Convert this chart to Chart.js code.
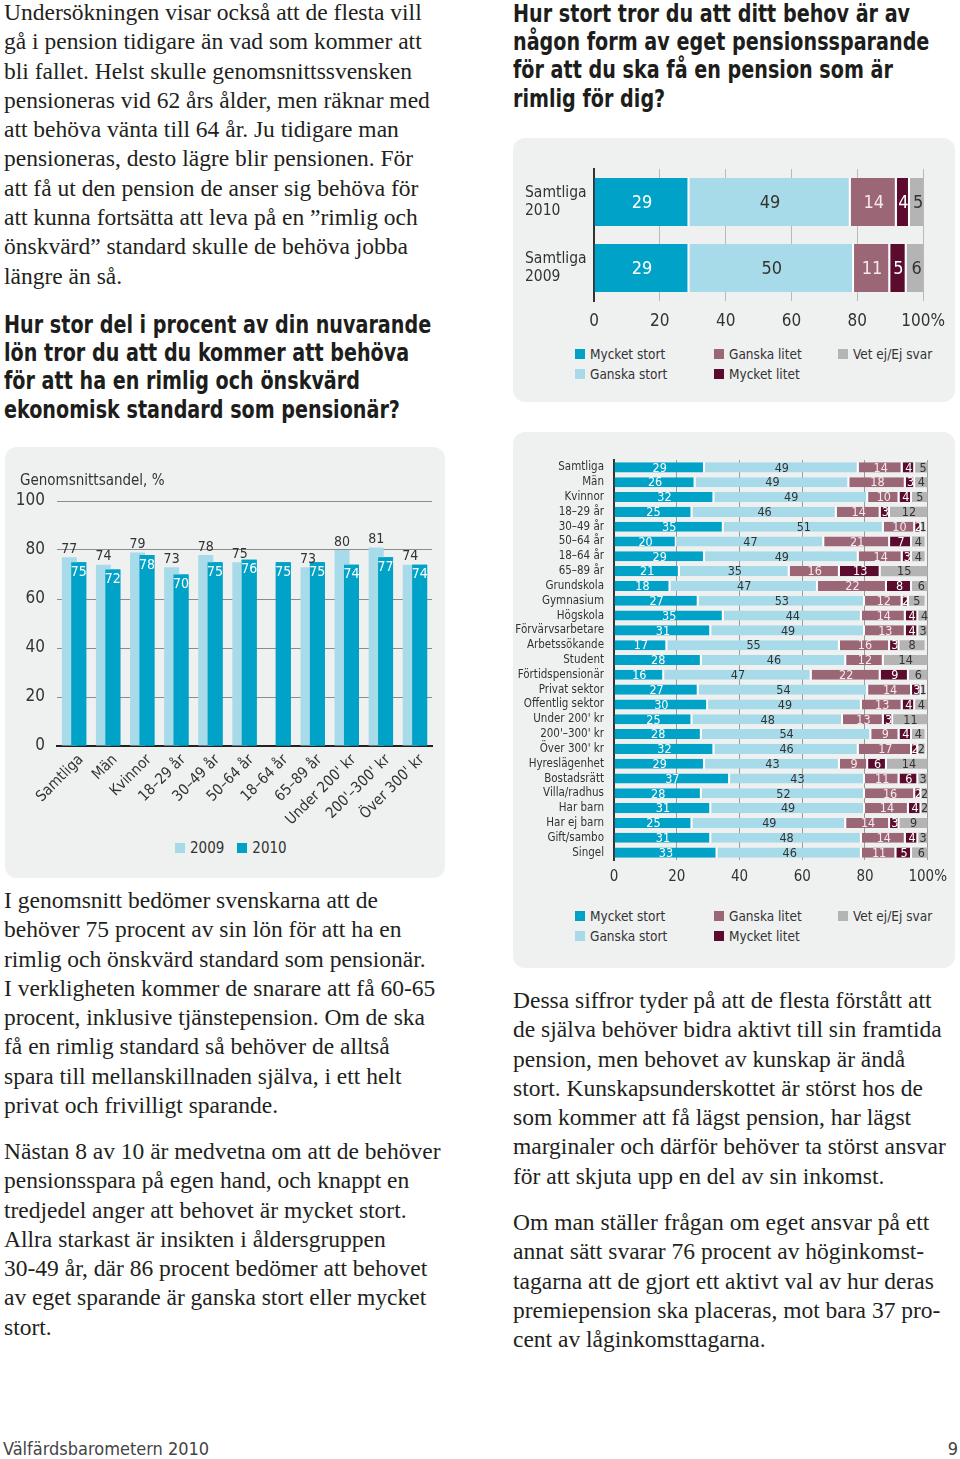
<!DOCTYPE html>
<html lang="sv">
<head>
<meta charset="UTF-8">
<title>Välfärdsbarometern 2010 – pension</title>
<script src="https://cdn.jsdelivr.net/npm/chart.js"></script>
<style>
  body { margin: 0; background: #fff; }
  .sida { position: relative; width: 960px; height: 1459px; overflow: hidden; }
  .brodtext { position: absolute; font-family: "Liberation Serif", "DejaVu Serif", serif; font-size: 23.5px; line-height: 29.3px; color: #231f20; white-space: nowrap; }
  .rubrik { position: absolute; font-family: "Liberation Sans Narrow", "DejaVu Sans Condensed", sans-serif; font-weight: bold; font-size: 25px; line-height: 28.2px; color: #1d1d1b; white-space: nowrap;
            transform: scaleX(0.852); transform-origin: 0 0; }
  .panel { position: absolute; background: #eff0f0; border-radius: 12px; }
  .panel canvas { position: absolute; left: 0; top: 0; }
  .smal { font-family: "Liberation Sans Narrow", "DejaVu Sans Condensed", sans-serif; color: #333; }
  .legend { position: absolute; font-size: 13.5px; line-height: 20px; white-space: nowrap;
            display: grid; grid-template-rows: 20px 20px; grid-auto-flow: column; grid-template-columns: 139px 124px 120px; }
  .legend i, .legend2 i { display: inline-block; width: 10px; height: 10px; margin-right: 5px; }
  .legend2 { position: absolute; font-size: 15px; line-height: 20px; display: flex; gap: 13px; }
  .fot { position: absolute; font-size: 18px; line-height: 22px; color: #444; }
</style>
</head>
<body>
<div class="sida">

  <div class="brodtext" style="left:4px; top:-2px">
    Undersökningen visar också att de flesta vill<br>
    gå i pension tidigare än vad som kommer att<br>
    bli fallet. Helst skulle genomsnittssvensken<br>
    pensioneras vid 62 års ålder, men räknar med<br>
    att behöva vänta till 64 år. Ju tidigare man<br>
    pensioneras, desto lägre blir pensionen. För<br>
    att få ut den pension de anser sig behöva för<br>
    att kunna fortsätta att leva på en ”rimlig och<br>
    önskvärd” standard skulle de behöva jobba<br>
    längre än så.
  </div>

  <div class="rubrik" style="left:4px; top:311px">
    Hur stor del i procent av din nuvarande<br>
    lön tror du att du kommer att behöva<br>
    för att ha en rimlig och önskvärd<br>
    ekonomisk standard som pensionär?
  </div>

  <div class="rubrik" style="left:513px; top:0px">
    Hur stort tror du att ditt behov är av<br>
    någon form av eget pensionssparande<br>
    för att du ska få en pension som är<br>
    rimlig för dig?
  </div>

  <!-- Genomsnittsandel 2009/2010 -->
  <div class="panel" style="left:5px; top:447px; width:440px; height:431px">
    <canvas id="andelChart" width="440" height="390"></canvas>
    <div class="smal" style="position:absolute; left:15px; top:23px; font-size:15px; line-height:20px">Genomsnittsandel, %</div>
    <div class="legend2 smal" id="legendAndel" style="left:170px; top:391px"></div>
  </div>

  <!-- Samtliga 2010 / 2009 -->
  <div class="panel" style="left:513px; top:138px; width:442px; height:264px">
    <canvas id="samtligaChart" width="442" height="200"></canvas>
    <div class="legend smal" id="legendSamtliga" style="left:62px; top:206px"></div>
  </div>

  <!-- Per grupp -->
  <div class="panel" style="left:513px; top:432px; width:442px; height:536px">
    <canvas id="grupperChart" width="442" height="460"></canvas>
    <div class="legend smal" id="legendGrupper" style="left:62px; top:474px"></div>
  </div>

  <div class="brodtext" style="left:4px; top:886px">
    I genomsnitt bedömer svenskarna att de<br>
    behöver 75 procent av sin lön för att ha en<br>
    rimlig och önskvärd standard som pensionär.<br>
    I verkligheten kommer de snarare att få 60-65<br>
    procent, inklusive tjänstepension. Om de ska<br>
    få en rimlig standard så behöver de alltså<br>
    spara till mellanskillnaden själva, i ett helt<br>
    privat och frivilligt sparande.
  </div>

  <div class="brodtext" style="left:4px; top:1137px">
    Nästan 8 av 10 är medvetna om att de behöver<br>
    pensionsspara på egen hand, och knappt en<br>
    tredjedel anger att behovet är mycket stort.<br>
    Allra starkast är insikten i åldersgruppen<br>
    30-49 år, där 86 procent bedömer att behovet<br>
    av eget sparande är ganska stort eller mycket<br>
    stort.
  </div>

  <div class="brodtext" style="left:513px; top:986px">
    Dessa siffror tyder på att de flesta förstått att<br>
    de själva behöver bidra aktivt till sin framtida<br>
    pension, men behovet av kunskap är ändå<br>
    stort. Kunskapsunderskottet är störst hos de<br>
    som kommer att få lägst pension, har lägst<br>
    marginaler och därför behöver ta störst ansvar<br>
    för att skjuta upp en del av sin inkomst.
  </div>

  <div class="brodtext" style="left:513px; top:1208px">
    Om man ställer frågan om eget ansvar på ett<br>
    annat sätt svarar 76 procent av höginkomst-<br>
    tagarna att de gjort ett aktivt val av hur deras<br>
    premiepension ska placeras, mot bara 37 pro-<br>
    cent av låginkomsttagarna.
  </div>

  <div class="fot smal" style="left:3px; top:1438px">Välfärdsbarometern 2010</div>
  <div class="fot smal" style="right:2px; top:1438px">9</div>
</div>

<script>
// --- data: genomsnittsandel av lönen, % ---
const aldersGrupper = ['Samtliga', 'Män', 'Kvinnor', '18–29 år', '30–49 år', '50–64 år', '18–64 år',
                       '65–89 år', "Under 200' kr", "200'–300' kr", "Över 300' kr"];
const andel2009 = [77, 74, 79, 73, 78, 75, null, 73, 80, 81, 74];
const andel2010 = [75, 72, 78, 70, 75, 76, 75, 75, 74, 77, 74];

// --- data: behov av eget pensionssparande, % ---
const svarsKategorier = ['Mycket stort', 'Ganska stort', 'Ganska litet', 'Mycket litet', 'Vet ej/Ej svar'];
const samtligaRader = [['Samtliga', '2010'], ['Samtliga', '2009']];
const samtligaMycketStort = [29, 29];
const samtligaGanskaStort = [49, 50];
const samtligaGanskaLitet = [14, 11];
const samtligaMycketLitet = [4, 5];
const samtligaVetEj = [5, 6];

const grupper = ['Samtliga', 'Män', 'Kvinnor', '18–29 år', '30–49 år', '50–64 år', '18–64 år', '65–89 år',
                 'Grundskola', 'Gymnasium', 'Högskola', 'Förvärvsarbetare', 'Arbetssökande', 'Student',
                 'Förtidspensionär', 'Privat sektor', 'Offentlig sektor', "Under 200' kr", "200'–300' kr",
                 "Över 300' kr", 'Hyreslägenhet', 'Bostadsrätt', 'Villa/radhus', 'Har barn', 'Har ej barn',
                 'Gift/sambo', 'Singel'];
const mycketStort = [29, 26, 32, 25, 35, 20, 29, 21, 18, 27, 35, 31, 17, 28, 16, 27, 30, 25, 28, 32, 29, 37, 28, 31, 25, 31, 33];
const ganskaStort = [49, 49, 49, 46, 51, 47, 49, 35, 47, 53, 44, 49, 55, 46, 47, 54, 49, 48, 54, 46, 43, 43, 52, 49, 49, 48, 46];
const ganskaLitet = [14, 18, 10, 14, 10, 21, 14, 16, 22, 12, 14, 13, 16, 12, 22, 14, 13, 13, 9, 17, 9, 11, 16, 14, 14, 14, 11];
const mycketLitet = [4, 3, 4, 3, 2, 7, 3, 13, 8, 2, 4, 4, 3, 0, 9, 3, 4, 3, 4, 2, 6, 6, 2, 4, 3, 4, 5];
const vetEj       = [5, 4, 5, 12, 1, 4, 4, 15, 6, 5, 4, 3, 8, 14, 6, 1, 4, 11, 4, 2, 14, 3, 2, 2, 9, 3, 6];

const farger = ['#00a2c7', '#a8dbe9', '#9b6676', '#5a0b2e', '#b4b4b4'];
const etikettFarger = ['#ffffff', '#333333', '#f6e8ec', '#ffffff', '#333333'];

const FONT = "'Liberation Sans Narrow', 'DejaVu Sans Condensed', sans-serif";
Chart.defaults.font.family = FONT;
Chart.defaults.color = '#333';
Chart.defaults.animation = false;
Chart.defaults.responsive = false;

// värden skrivs ut på staplarna
const etiketter = {
    id: 'etiketter',
    afterDatasetsDraw(chart, args, opts) {
        const ctx = chart.ctx;
        ctx.save();
        // 2010-staplarna ska ligga ovanpå 2009
        chart.data.datasets.forEach((ds, i) => {
            if (ds.framfor) chart.getDatasetMeta(i).data.forEach(el => el.draw(ctx));
        });
        ctx.font = opts.size + 'px ' + FONT;
        ctx.textAlign = 'center';
        chart.data.datasets.forEach((ds, i) => {
            chart.getDatasetMeta(i).data.forEach((el, j) => {
                const v = ds.data[j];
                if (!v) return;
                ctx.fillStyle = ds.etikettFarg;
                if (ds.etikett === 'over') {
                    ctx.textBaseline = 'bottom';
                    ctx.fillText(v, el.x, el.y - 1);
                } else if (ds.etikett === 'inne') {
                    ctx.textBaseline = 'top';
                    ctx.fillText(v, el.x, el.y + 3);
                } else {
                    ctx.textBaseline = 'middle';
                    ctx.fillText(v, (el.x + el.base) / 2, el.y + 1);
                }
            });
        });
        ctx.restore();
    }
};

// Genomsnittsandel
new Chart(document.getElementById('andelChart'), {
    type: 'bar',
    data: {
        labels: aldersGrupper,
        datasets: [
            { label: '2009', data: andel2009, backgroundColor: farger[1], etikett: 'over', etikettFarg: '#333',
              categoryPercentage: 0.55, barPercentage: 1.6 },
            { label: '2010', data: andel2010, backgroundColor: farger[0], etikett: 'inne', etikettFarg: '#fff',
              categoryPercentage: 0.55, barPercentage: 1.6, framfor: true }
        ]
    },
    options: {
        layout: { padding: { top: 54, right: 13, left: 0, bottom: 0 } },
        plugins: { legend: { display: false }, tooltip: { enabled: false }, etiketter: { size: 14 } },
        scales: {
            x: {
                grid: { display: false },
                border: { color: '#222', width: 2 },
                ticks: { font: { size: 15 }, maxRotation: 45, minRotation: 45, autoSkip: false, padding: -3, labelOffset: 7 },
                afterFit(s) { s.height = 91; }
            },
            y: {
                min: 0, max: 100,
                ticks: { stepSize: 20, font: { size: 17 }, padding: 12 },
                grid: { color: c => c.tick.value === 0 ? 'rgba(0,0,0,0)' : '#8c8c8c', drawTicks: false },
                border: { display: false },
                afterFit(s) { s.width = 52; }
            }
        }
    },
    plugins: [etiketter]
});

function staplarMedKategorier(serier) {
    return svarsKategorier.map((namn, i) => ({
        label: namn,
        data: serier[i],
        backgroundColor: farger[i],
        etikettFarg: etikettFarger[i],
        borderColor: '#ffffff',
        borderWidth: i < 4 ? { right: 2, left: 0, top: 0, bottom: 0 } : 0,
        borderSkipped: false
    }));
}

// Samtliga 2010 och 2009
new Chart(document.getElementById('samtligaChart'), {
    type: 'bar',
    data: {
        labels: samtligaRader,
        datasets: staplarMedKategorier([samtligaMycketStort, samtligaGanskaStort, samtligaGanskaLitet,
                                        samtligaMycketLitet, samtligaVetEj])
            .map(d => Object.assign(d, { categoryPercentage: 0.73, barPercentage: 1 }))
    },
    options: {
        indexAxis: 'y',
        layout: { padding: { left: 12, right: 28, top: 31, bottom: 0 } },
        plugins: { legend: { display: false }, tooltip: { enabled: false }, etiketter: { size: 18 } },
        scales: {
            x: {
                stacked: true, min: 0, max: 100,
                ticks: { stepSize: 20, font: { size: 17 }, padding: 10, callback: v => v === 100 ? '100%' : v },
                grid: { color: '#b9b9b9', drawTicks: false },
                border: { display: false },
                afterFit(s) { s.height = 37; }
            },
            y: {
                stacked: true,
                grid: { display: false },
                border: { color: '#333', width: 2 },
                ticks: { font: { size: 15.5 }, crossAlign: 'far', padding: 0 },
                afterFit(s) { s.width = 69; }
            }
        }
    },
    plugins: [etiketter]
});

// Per grupp
new Chart(document.getElementById('grupperChart'), {
    type: 'bar',
    data: {
        labels: grupper,
        datasets: staplarMedKategorier([mycketStort, ganskaStort, ganskaLitet, mycketLitet, vetEj])
            .map(d => Object.assign(d, { categoryPercentage: 0.68, barPercentage: 1 }))
    },
    options: {
        indexAxis: 'y',
        layout: { padding: { left: 0, right: 19, top: 28, bottom: 0 } },
        plugins: { legend: { display: false }, tooltip: { enabled: false }, etiketter: { size: 12.5 } },
        scales: {
            x: {
                stacked: true, min: 0, max: 100,
                ticks: { stepSize: 20, font: { size: 15 }, padding: 8, callback: v => v === 100 ? '100%' : v },
                grid: { color: '#9a9a9a', drawTicks: false },
                border: { display: false },
                afterFit(s) { s.height = 32; }
            },
            y: {
                stacked: true,
                grid: { display: false },
                border: { color: '#333', width: 2 },
                ticks: { font: { size: 11.5 }, padding: 2, autoSkip: false },
                afterFit(s) { s.width = 101; }
            }
        }
    },
    plugins: [etiketter]
});

// teckenförklaringar
function fyllLegend(id) {
    document.getElementById(id).innerHTML = svarsKategorier
        .map((namn, i) => '<span><i style="background:' + farger[i] + '"></i>' + namn + '</span>').join('');
}
fyllLegend('legendSamtliga');
fyllLegend('legendGrupper');
document.getElementById('legendAndel').innerHTML =
    '<span><i style="background:' + farger[1] + '"></i>2009</span>' +
    '<span><i style="background:' + farger[0] + '"></i>2010</span>';
</script>
</body>
</html>
